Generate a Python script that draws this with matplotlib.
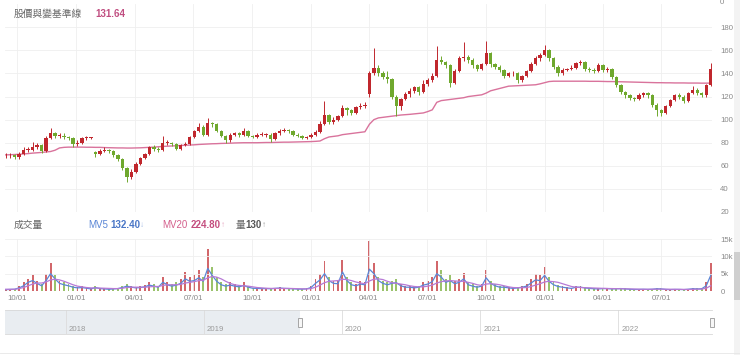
import numpy as np
import pandas as pd
import matplotlib
matplotlib.use('Agg')
import matplotlib.pyplot as plt
import matplotlib.dates as mdates
from matplotlib.patches import Rectangle

# weekly candles, week ending Friday
dates = pd.date_range('2019-09-13', '2022-09-16', freq='W-FRI')

opens = [69, 69, 69,
         68, 70, 74, 74, 76, 78, 73, 84, 88, 86, 86, 85, 84,
         79, 80, 84, 84, 72, 70, 73, 74, 73, 69, 66, 58, 50,
         55, 62, 67, 70, 76, 75, 74, 80, 80, 79, 75, 78, 79,
         85, 90, 94, 87, 97, 96, 90, 86, 82, 87, 88, 87, 90,
         86, 85, 87, 87, 87, 83, 88, 90, 91, 90, 87, 86, 84,
         85, 87, 89, 96, 104, 98, 100, 103, 110, 108, 106, 111, 112,
         122, 140, 145, 140, 137, 135, 120, 112, 118, 122, 125, 128, 124,
         131, 134, 138, 152, 150, 147, 132, 142, 153, 154, 152, 147, 144,
         148, 158, 148, 146, 143, 138, 140, 140, 134, 138, 142, 148, 153, 156,
         160, 153, 146, 140, 143, 144, 145, 149, 150, 144, 143, 142, 147,
         143, 144, 137, 130, 124, 121, 119, 118, 121, 123, 121, 113, 108,
         106, 112, 117, 121, 120, 116, 123, 126, 123, 121, 130]
closes = [69, 69, 68,
          70, 74, 74, 76, 78, 73, 84, 88, 86, 86, 85, 84, 79,
          80, 84, 84, 84, 70, 73, 74, 73, 69, 66, 58, 50, 55,
          62, 67, 70, 76, 75, 74, 80, 80, 79, 75, 78, 79, 85,
          90, 94, 87, 97, 96, 90, 86, 82, 87, 88, 87, 90, 86,
          85, 87, 87, 87, 83, 88, 90, 91, 90, 87, 86, 84, 85,
          87, 89, 96, 104, 98, 100, 103, 110, 108, 106, 111, 112, 113,
          140, 145, 140, 137, 135, 120, 112, 118, 122, 125, 128, 124, 131,
          134, 138, 152, 150, 147, 132, 142, 153, 154, 152, 147, 144, 148,
          158, 148, 146, 143, 138, 140, 140, 134, 138, 142, 148, 153, 156, 160,
          153, 146, 140, 143, 144, 145, 149, 150, 144, 143, 142, 147, 143,
          144, 137, 130, 124, 121, 119, 118, 121, 123, 121, 113, 108, 106,
          112, 117, 121, 120, 116, 123, 126, 123, 121, 130, 144]
highs = [71, 71, 70,
         72, 76, 76, 81, 80, 79, 86, 93, 89, 88, 88, 86, 85,
         82, 85, 86, 85, 73, 75, 76, 75, 74, 70, 67, 59, 57,
         63, 68, 71, 77, 78, 76, 86, 82, 81, 80, 79, 81, 86,
         91, 97, 95, 101, 98, 97, 91, 87, 88, 89, 89, 93, 91,
         87, 88, 89, 88, 88, 89, 92, 93, 92, 91, 88, 87, 86,
         88, 91, 99, 116, 105, 102, 104, 113, 111, 109, 112, 114, 115,
         142, 162, 147, 142, 142, 136, 121, 119, 124, 127, 129, 129, 134,
         136, 140, 164, 155, 151, 148, 144, 155, 167, 156, 153, 148, 149,
         168, 159, 149, 147, 144, 141, 142, 141, 139, 143, 150, 155, 158, 165,
         161, 154, 147, 145, 145, 147, 150, 152, 151, 146, 145, 149, 148,
         146, 145, 138, 131, 125, 122, 120, 123, 124, 124, 122, 114, 109,
         113, 118, 122, 123, 121, 124, 129, 127, 124, 131, 149]
lows = [67, 67, 66,
        66, 69, 72, 73, 75, 71, 72, 83, 84, 84, 83, 82, 76,
        77, 79, 82, 83, 68, 69, 72, 71, 68, 64, 56, 46, 49,
        54, 61, 66, 69, 73, 72, 73, 78, 77, 74, 74, 77, 78,
        84, 89, 86, 86, 94, 89, 85, 80, 81, 86, 85, 86, 85,
        84, 84, 86, 85, 81, 82, 87, 89, 88, 86, 85, 83, 83,
        84, 86, 88, 95, 96, 96, 99, 102, 104, 104, 105, 109, 110,
        120, 139, 138, 135, 132, 118, 103, 108, 117, 120, 123, 121, 123,
        129, 133, 137, 148, 145, 128, 131, 141, 151, 149, 145, 142, 143,
        147, 146, 144, 141, 136, 137, 138, 132, 133, 137, 141, 147, 151, 155,
        151, 144, 138, 139, 142, 143, 144, 147, 142, 141, 140, 141, 141,
        141, 135, 128, 122, 119, 117, 116, 117, 120, 119, 111, 103, 103,
        105, 111, 116, 118, 114, 115, 122, 121, 120, 120, 129]
baseline = [69.5, 69.6, 69.8,
            70, 70.3, 70.6, 71, 71.3, 71.6, 72, 72.4, 73.5, 75.5, 76, 76.2, 76.2,
            76.2, 76.2, 76.1, 76.1, 76, 76, 75.8, 75.7, 75.6, 75.5, 75.5, 75.4, 75.4,
            75.5, 75.6, 75.8, 76, 76.2, 76.5, 76.8, 77, 77.2, 77.4, 77.6, 77.8, 78,
            78.2, 78.5, 78.7, 78.9, 79.1, 79.2, 79.4, 79.5, 79.6, 79.8, 79.9, 80, 80,
            80, 80, 80.1, 80.2, 80.2, 80.3, 80.4, 80.5, 80.5, 80.6, 80.7, 80.8, 80.9,
            81, 81.2, 81.5, 83.5, 85, 85.5, 86, 87, 87.5, 88, 88.5, 89, 89.5,
            96, 100, 101.5, 102, 102.5, 103, 103.5, 104, 104.3, 104.6, 105, 105.4, 105.8,
            107, 108.5, 115, 116.5, 117, 117.5, 118, 118.5, 119, 120, 120.5, 121, 121.5,
            123, 125, 126, 127, 128, 129, 129.2, 129.4, 129.6, 129.8, 130, 130.2, 131, 132,
            133, 133.3, 133.3, 133.3, 133.3, 133.3, 133.3, 133.3, 133.3, 133.2, 133.2, 133.2, 133.1,
            133, 133, 132.9, 132.8, 132.7, 132.6, 132.5, 132.4, 132.3, 132.2, 132.1, 132, 132,
            131.9, 131.9, 131.8, 131.8, 131.8, 131.7, 131.7, 131.7, 131.6, 131.6, 131.64]

volume = [400, 500, 600,
          1500, 2500, 3500, 4500, 3000, 2000, 5000, 8000, 4500, 3000, 2500, 2000, 1500,
          1200, 1500, 1000, 800, 1500, 1000, 800, 700, 800, 1000, 1500, 2000, 1500,
          1200, 1500, 1800, 2500, 2000, 1500, 4000, 2500, 2000, 2500, 3500, 5500, 4000,
          4500, 6000, 4000, 12000, 7000, 4000, 2500, 2000, 2500, 2000, 1800, 2500, 1500,
          1000, 1000, 900, 900, 800, 1000, 1200, 1000, 900, 800, 700, 700, 800,
          1500, 3500, 5000, 8700, 4000, 3000, 3000, 9000, 4000, 2500, 2000, 3000, 2500,
          14300, 8000, 4000, 3000, 2500, 3000, 3500, 2000, 1500, 1500, 1200, 1500, 2500,
          3000, 4000, 8700, 6000, 3500, 4500, 3000, 3500, 5300, 2500, 2000, 1500, 2000,
          6000, 3000, 2000, 1500, 1500, 1200, 1000, 1200, 1500, 2000, 3500, 5000, 4500, 7000,
          4000, 2500, 1800, 1500, 1200, 1000, 1500, 1500, 1200, 1000, 900, 800, 1000,
          1000, 800, 900, 1000, 800, 700, 600, 600, 700, 600, 700, 900, 800,
          600, 500, 600, 600, 500, 700, 900, 800, 900, 2500, 8000]
mv5 = [400, 450, 500,
       900, 1500, 2500, 3000, 2200, 1500, 3000, 5000, 3500, 2200, 1800, 1500, 1100,
       900, 1000, 800, 600, 1000, 700, 600, 500, 600, 700, 1000, 1400, 1100,
       900, 1000, 1200, 1700, 1400, 1100, 2500, 1800, 1400, 1700, 2200, 3500, 2800,
       3000, 3800, 2800, 6500, 4500, 2800, 1800, 1400, 1700, 1400, 1200, 1600, 1100,
       800, 750, 700, 700, 650, 750, 850, 750, 700, 650, 550, 550, 600,
       1000, 2200, 3200, 5000, 3000, 2200, 2100, 5500, 3000, 1800, 1500, 2000, 1800,
       6300, 5000, 3000, 2200, 1800, 2200, 2400, 1500, 1100, 1100, 900, 1100, 1700,
       2000, 2700, 5000, 4000, 2500, 3000, 2100, 2500, 3500, 1800, 1400, 1100, 1400,
       3800, 2200, 1500, 1100, 1100, 900, 750, 900, 1100, 1400, 2300, 3200, 3000, 4500,
       2800, 1800, 1300, 1100, 900, 750, 1100, 1100, 900, 750, 650, 600, 700,
       700, 600, 650, 700, 600, 500, 450, 450, 500, 450, 500, 650, 600,
       450, 400, 450, 450, 400, 500, 650, 600, 650, 1500, 4500]
mv20 = [500, 500, 500,
        700, 1000, 1500, 2000, 2300, 2300, 2600, 3200, 3400, 3200, 2800, 2300, 1800,
        1400, 1200, 1000, 900, 850, 850, 800, 750, 700, 700, 800, 1000, 1100,
        1100, 1100, 1100, 1200, 1300, 1300, 1600, 1800, 1800, 1800, 1900, 2300, 2500,
        2700, 3000, 3100, 3800, 4200, 4000, 3500, 2800, 2200, 1800, 1600, 1500, 1400,
        1200, 1000, 900, 800, 750, 750, 750, 750, 750, 700, 650, 620, 600,
        700, 1100, 1700, 2400, 2800, 2900, 3000, 3400, 3300, 3000, 2600, 2300, 2100,
        2900, 3400, 3500, 3300, 2800, 2400, 2200, 2000, 1800, 1500, 1300, 1200, 1200,
        1400, 1700, 2300, 2700, 2900, 3000, 2900, 2800, 2800, 2500, 2200, 1800, 1600,
        2000, 2100, 2000, 1800, 1500, 1200, 1000, 950, 950, 1000, 1300, 1700, 2100, 2600,
        2800, 2700, 2500, 2100, 1700, 1300, 1100, 1000, 950, 900, 850, 800, 750,
        720, 700, 680, 660, 640, 600, 560, 520, 500, 500, 500, 520, 540,
        520, 500, 480, 470, 460, 460, 500, 530, 560, 800, 1500]

quarter_ticks = pd.date_range('2019-10-01', '2022-07-01', freq='QS')
years = ['2018', '2019', '2020', '2021', '2022']

W, H = 740, 355
UP, DOWN = '#c0272d', '#6fa82e'


def box(x0, y0, x1, y1):
    return [x0 / W, 1 - y1 / H, (x1 - x0) / W, (y1 - y0) / H]


def ptext(x, y, s, **kw):
    fig.text(x / W, 1 - y / H, s, **kw)


plt.rcParams['font.family'] = ['Liberation Sans', 'Noto Sans CJK TC', 'DejaVu Sans']
fig = plt.figure(figsize=(W / 100, H / 100), dpi=100)

o = np.array(opens, float)
c = np.array(closes, float)
colors = np.where(c >= o, UP, DOWN)
x0, x1 = pd.Timestamp('2019-09-12'), pd.Timestamp('2022-09-18')

# price panel
ax = fig.add_axes(box(5, 4.2, 712, 212))
ax.vlines(dates, lows, highs, colors=colors, lw=0.7, zorder=3)
body = np.maximum(np.abs(c - o), 0.8)
ax.bar(dates, body, bottom=np.minimum(o, c), width=5.2, color=colors, zorder=4, lw=0)
ax.plot(dates, baseline, color='#d9739c', lw=1.0, zorder=2)
ax.set_xlim(x0, x1)
ax.set_ylim(20, 200)
ax.set_yticks(range(20, 181, 20))
ax.set_xticks(quarter_ticks)
ax.tick_params(axis='x', labelbottom=False, length=0)
ax.yaxis.tick_right()
ax.tick_params(axis='y', length=0, pad=6, labelsize=5.6, labelcolor='#8a8a8a')
ax.grid(color='#efefef', lw=0.6)
for s in ax.spines.values():
    s.set_visible(False)

# volume panel
axv = fig.add_axes(box(5, 239, 712, 291))
axv.bar(dates, volume, width=3.0, color=colors, alpha=0.7, lw=0)
axv.plot(dates, mv5, color='#5a86d6', lw=0.9)
axv.plot(dates, mv20, color='#b77ad6', lw=0.9)
axv.set_xlim(x0, x1)
axv.set_ylim(0, 15000)
axv.set_yticks([0, 5000, 10000, 15000])
axv.set_yticklabels(['0', '5k', '10k', '15k'])
axv.set_xticks(quarter_ticks)
axv.xaxis.set_major_formatter(mdates.DateFormatter('%m/%d'))
axv.yaxis.tick_right()
axv.tick_params(axis='y', length=0, pad=6, labelsize=5.6, labelcolor='#8a8a8a')
axv.tick_params(axis='x', length=0, pad=3, labelsize=5.6, labelcolor='#8a8a8a')
axv.grid(color='#efefef', lw=0.6)
for s in axv.spines.values():
    s.set_visible(False)

# navigator
axn = fig.add_axes(box(5, 310, 712, 334))
n0, n1 = pd.Timestamp('2017-07-25'), pd.Timestamp('2022-09-06')
axn.set_xlim(n0, n1)
axn.set_ylim(0, 1)
axn.axvspan(n0, dates[0], color='#e9edf1', lw=0)
for yr in years:
    d = pd.Timestamp(yr + '-01-01')
    axn.axvline(d, color='#dcdcdc', lw=0.6)
    axn.text(d + pd.Timedelta(days=8), 0.12, yr, fontsize=5.6, color='#9a9a9a')
axn.set_xticks([])
axn.set_yticks([])
for s in axn.spines.values():
    s.set_color('#d8d8d8')
    s.set_linewidth(0.6)
axn.spines['left'].set_visible(False)
axn.spines['right'].set_visible(False)
for hx in (300, 712):
    fig.patches.append(Rectangle((hx / W - 2 / W, 1 - 327 / H), 4 / W, 9 / H,
                                 transform=fig.transFigure, fc='#f7f7f7', ec='#999999', lw=0.6))

# bottom divider and right scrollbar strip
fig.add_artist(plt.Line2D([0, 1], [1 - 353 / H, 1 - 353 / H], color='#e6e6e6', lw=0.6))
fig.patches.append(Rectangle((734 / W, 0), 6 / W, 1, transform=fig.transFigure,
                             fc='#f3f3f3', ec='none'))
fig.patches.append(Rectangle((734 / W, 1 - 300 / H), 6 / W, 48 / H, transform=fig.transFigure,
                             fc='#cfcfcf', ec='none'))

# headers
ptext(14, 14, '股價與變基準線', fontsize=7, color='#666666', va='center')
ptext(95, 14, '131.64', fontsize=7, color='#c04d80', va='center', fontweight='bold')
ptext(720, 2, '0', fontsize=5.6, color='#8a8a8a', va='center')
ptext(14, 225, '成交量', fontsize=7, color='#666666', va='center')
ptext(88, 225, 'MV5', fontsize=7, color='#5a86d6', va='center')
ptext(110, 225, '132.40', fontsize=7, color='#4a76c6', va='center', fontweight='bold')
ptext(140, 225, '↓', fontsize=6, color='#a9bfe6', va='center')
ptext(162, 225, 'MV20', fontsize=7, color='#d45f8c', va='center')
ptext(191, 225, '224.80', fontsize=7, color='#c44d7e', va='center', fontweight='bold')
ptext(221, 225, '↑', fontsize=6, color='#e6a3bf', va='center')
ptext(236, 225, '量', fontsize=7, color='#666666', va='center')
ptext(245, 225, '130', fontsize=7, color='#555555', va='center', fontweight='bold')
ptext(262, 225, '↑', fontsize=6, color='#999999', va='center')

fig.savefig('out.png', dpi=100)
